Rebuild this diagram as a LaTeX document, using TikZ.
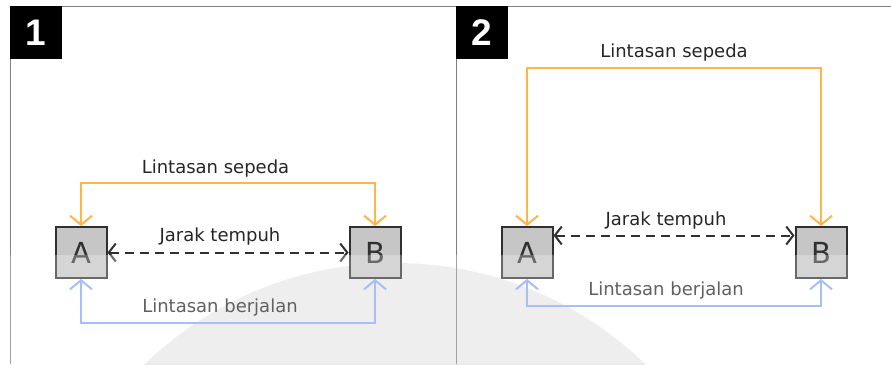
\documentclass[tikz,border=0pt]{standalone}
\usepackage{fontspec}
\setmainfont{DejaVu Sans}
\newfontfamily\numfont{Liberation Sans}
\usetikzlibrary{arrows.meta}
\definecolor{sepedaline}{HTML}{FFB548}
\definecolor{jalanline}{HTML}{86A6FA}
\definecolor{boxfill}{HTML}{C6C6C6}
\definecolor{darkline}{HTML}{303030}
\tikzset{
	barb/.tip={Straight Barb[length=9pt,width=22pt,line width=2pt]},
	smallbarb/.tip={Straight Barb[length=7pt,width=18pt,line width=2pt]},
	titik/.style={draw=darkline, fill=boxfill, line width=2pt, minimum size=51pt, inner sep=0pt, font=\fontsize{29}{30}\selectfont, text=darkline},
	nomor/.style={fill=black, text=white, minimum width=52pt, minimum height=53pt, inner sep=0pt, font=\numfont\bfseries\fontsize{37}{38}\selectfont},
	label/.style={anchor=base, font=\fontsize{18}{20}\selectfont, text=black!85},
	sepeda/.style={draw=sepedaline, line width=2pt, barb-barb},
	jalan/.style={draw=jalanline, line width=2pt, barb-barb},
	jarak/.style={draw=darkline, line width=2pt, dash pattern=on 9pt off 6pt, smallbarb-smallbarb}
}

\begin{document}
\begin{tikzpicture}[x=1pt,y=-1pt]
		%%%%% START %%%%%
		
		\useasboundingbox (0, 0) rectangle (891, 364);
		\fill[white] (0, 0) rectangle (891, 364);
		\fill[black!9] (395, 263) ++(0, 360) circle (360);
		
		\draw[line width=1pt, color=black!50] (10, 364) -- (10, 6.5) -- (891, 6.5);
		\draw[line width=1pt, color=black!50] (456, 6.5) -- (456, 364);
		
		% panel 1
		\node[nomor] (n1) at (36, 32.5) {1};
		\node[titik] (a1) at (81, 252.5) {A};
		\node[titik] (b1) at (375, 252.5) {B};
		
		\draw[sepeda] (a1.north) -- ++(0, -43.5) -| (b1.north);
		\draw[jalan] (a1.south) -- ++(0, 43.5) -| (b1.south);
		\draw[jarak] (a1.east) -- (b1.west);
		
		\node[label] (s1) at (215.5, 173) {Lintasan sepeda};
		\node[label] (j1) at (220, 241) {Jarak tempuh};
		\node[label] (w1) at (220, 312) {Lintasan berjalan};
		
		% panel 2
		\node[nomor] (n2) at (482, 32.5) {2};
		\node[titik] (a2) at (527, 252.5) {A};
		\node[titik] (b2) at (821, 252.5) {B};
		
		\draw[sepeda] (a2.north) -- ++(0, -158.5) -| (b2.north);
		\draw[jalan] (a2.south) -- ++(0, 26.5) -| (b2.south);
		\draw[jarak] ([yshift=17pt]a2.east) -- ([yshift=17pt]b2.west);
		
		\node[label] (s2) at (674, 57) {Lintasan sepeda};
		\node[label] (j2) at (666, 225) {Jarak tempuh};
		\node[label] (w2) at (666, 295) {Lintasan berjalan};
		
		% faded lower band
		\fill[white, opacity=0.27] (0, 255) rectangle (891, 364);
		
		%%%%% END %%%%%
	\end{tikzpicture}
\end{document}
